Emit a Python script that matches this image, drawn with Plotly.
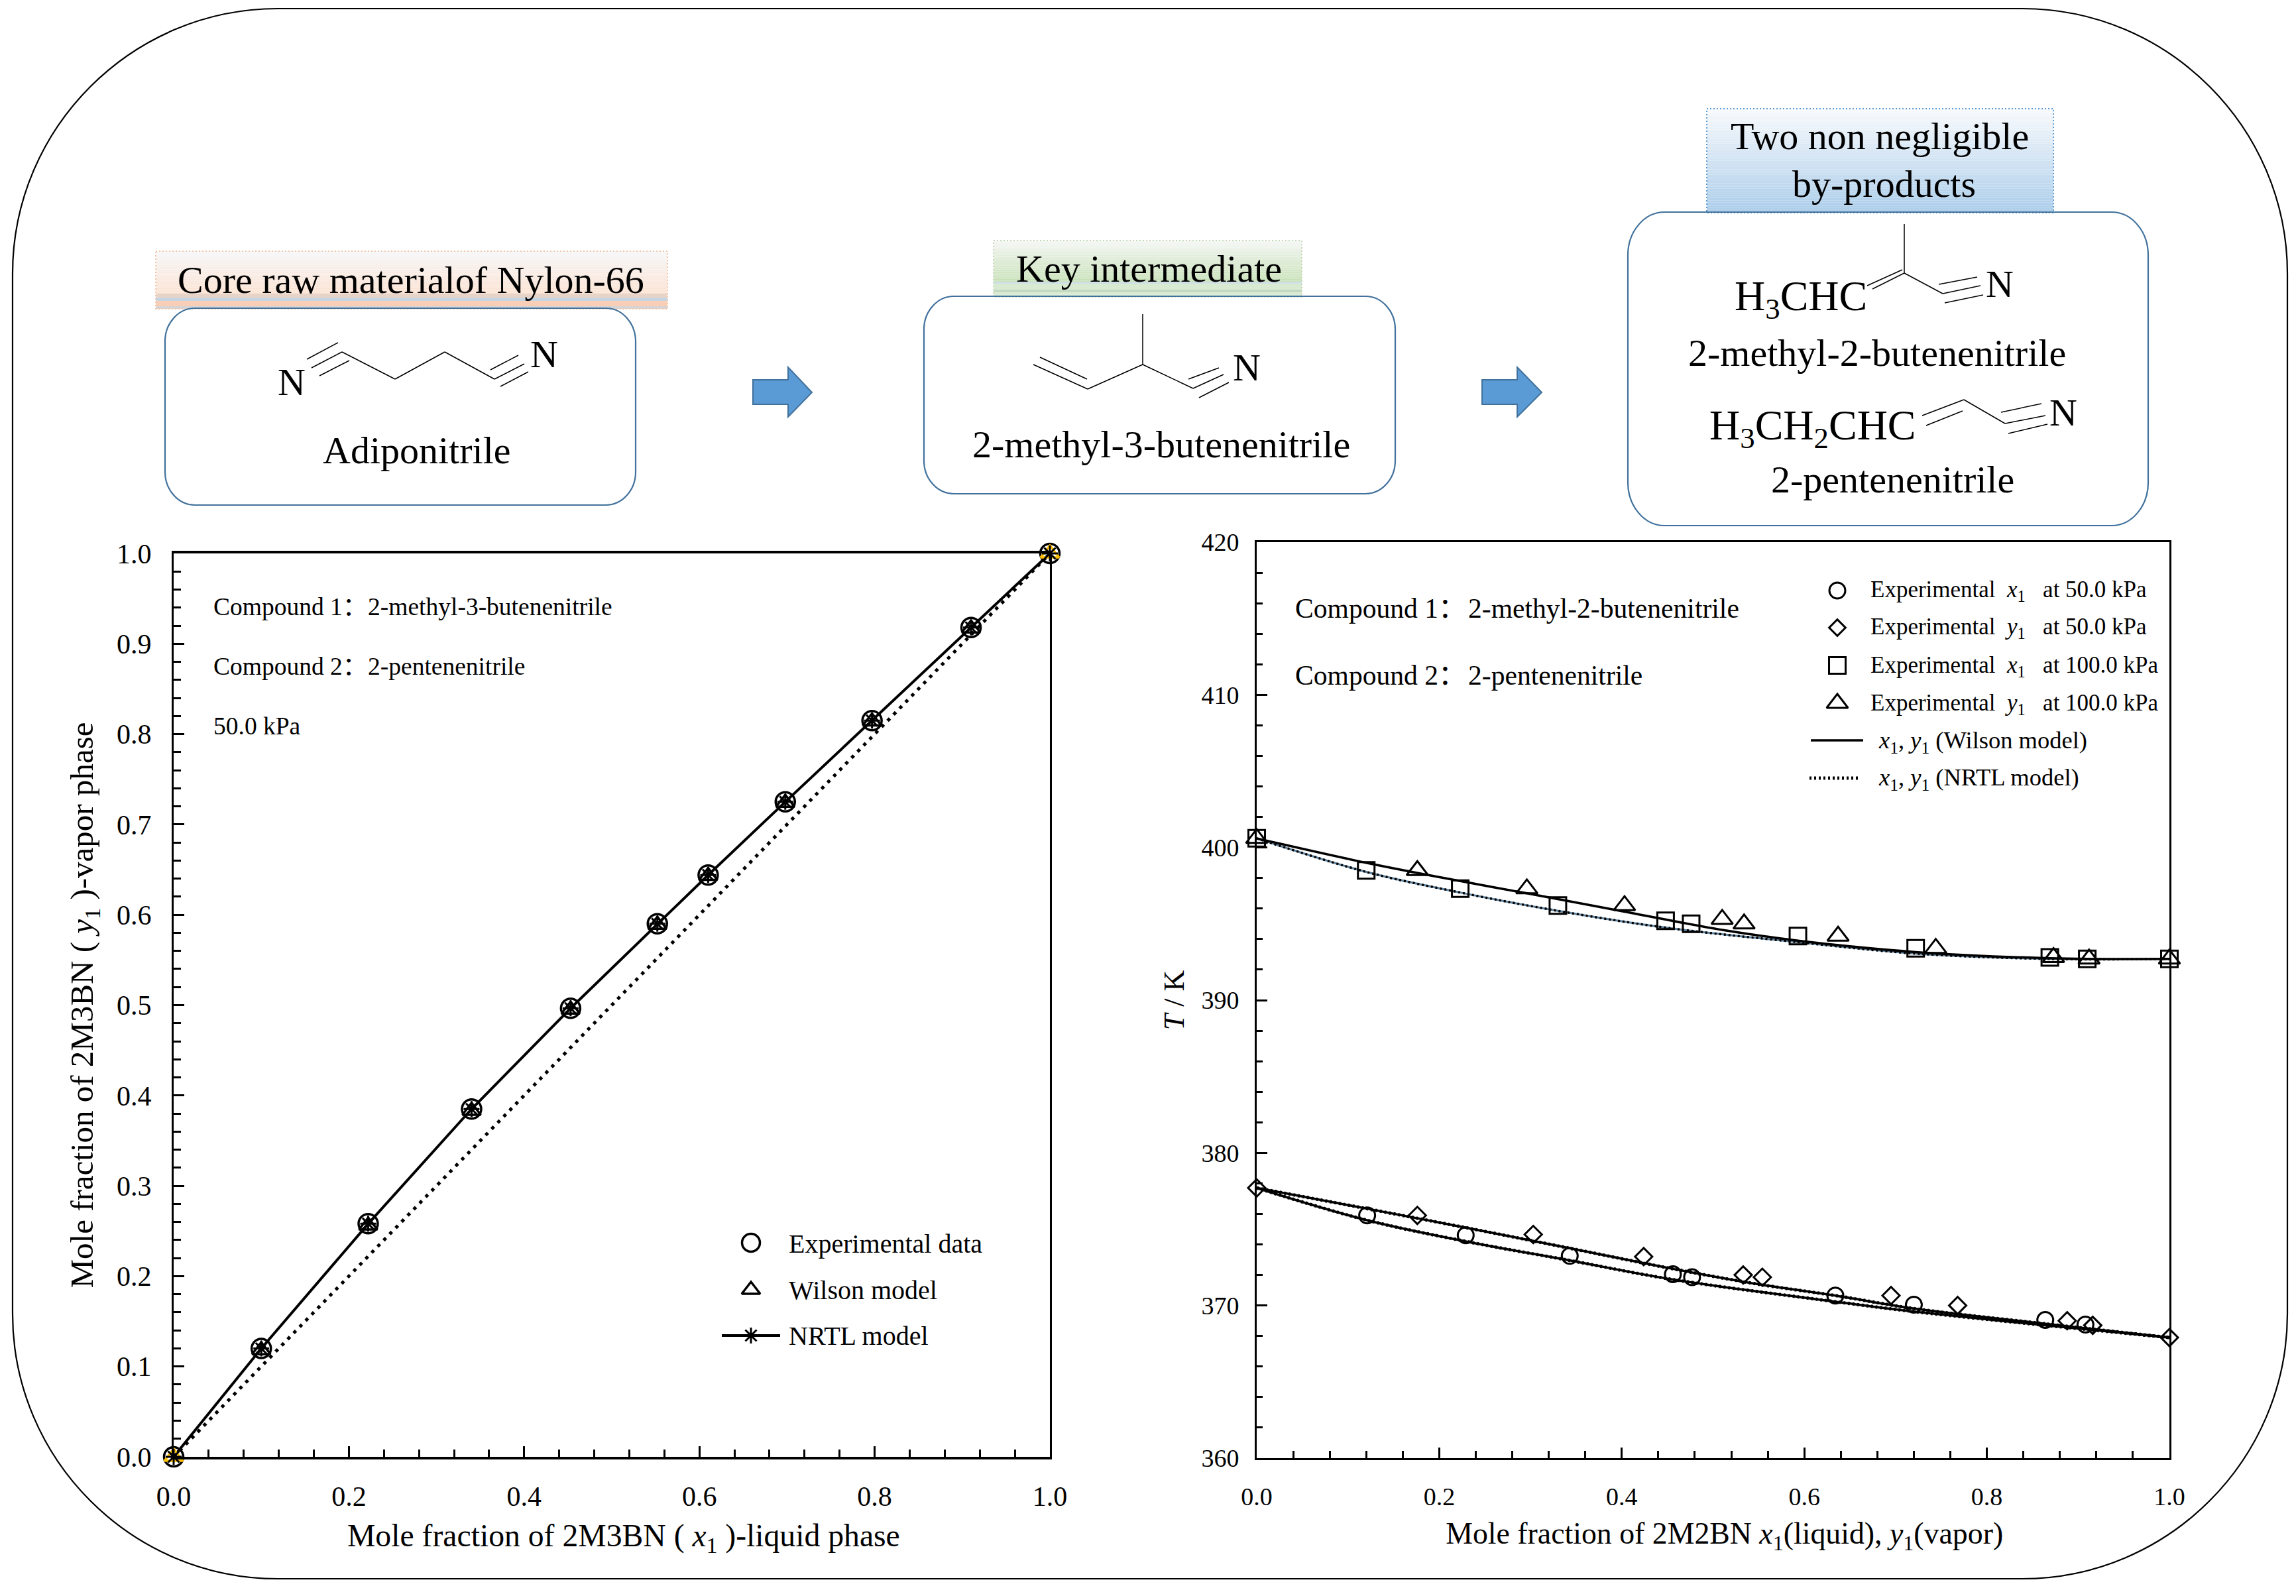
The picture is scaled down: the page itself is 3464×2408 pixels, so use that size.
'''
Vapor-liquid equilibrium figure for the 2M3BN / 2M2BN / 2PN nitrile systems,
with the reaction scheme drawn above the two plots.
'''

import plotly.graph_objects as go
from plotly.subplots import make_subplots

W, H = 3464, 2408
SERIF = "Liberation Serif, Noto Sans CJK SC, serif"
NB = "\u00a0"
# plotly trims plain spaces from a title, the zero width mark keeps the padding
TITLE_PAD = "\u200c" + NB * 3

# left plot: x-y diagram at 50 kPa
xy_x = [0.0, 0.1, 0.222, 0.34, 0.453, 0.552, 0.61, 0.698, 0.797, 0.91, 1.0]
xy_exp = [0.0, 0.12, 0.258, 0.385, 0.4965, 0.59, 0.644, 0.725, 0.815, 0.918, 1.0]
xy_wilson = [0.0, 0.118, 0.256, 0.383, 0.495, 0.589, 0.643, 0.724, 0.814, 0.917, 1.0]
xy_nrtl = [0.0, 0.12, 0.258, 0.385, 0.4965, 0.59, 0.644, 0.725, 0.815, 0.918, 1.0]
diag_x = [0.0, 1.0]
diag_y = [0.0, 1.0]

# right plot: T-x-y diagram, experimental points
x1_50 = [0.121, 0.229, 0.343, 0.456, 0.477, 0.634, 0.72, 0.864, 0.908]
t_x1_50 = [375.9, 374.6, 373.25, 372.05, 371.85, 370.65, 370.05, 369.05, 368.75]
y1_50 = [0.0, 0.176, 0.303, 0.424, 0.533, 0.554, 0.695, 0.768, 0.888, 0.916, 1.0]
t_y1_50 = [377.7, 375.9, 374.65, 373.2, 372.0, 371.85, 370.65, 370.0, 369.0, 368.7, 367.9]
x1_100 = [0.0, 0.12, 0.223, 0.33, 0.448, 0.476, 0.593, 0.722, 0.869, 0.91, 1.0]
t_x1_100 = [400.6, 398.5, 397.3, 396.2, 395.2, 395.0, 394.2, 393.4, 392.8, 392.7, 392.7]
y1_100 = [0.0, 0.176, 0.296, 0.403, 0.51, 0.534, 0.637, 0.744, 0.873, 0.912, 1.0]
t_y1_100 = [400.6, 398.5, 397.3, 396.2, 395.3, 395.0, 394.2, 393.4, 392.8, 392.7, 392.7]

# right plot: model curves
curve_x_50_low = [0.0, 0.12, 0.229, 0.343, 0.456, 0.634, 0.72, 0.864, 1.0]
curve_t_50_low = [377.7, 375.6, 374.2, 372.95, 371.7, 370.25, 369.6, 368.7, 367.9]
curve_x_50_up = [0.0, 0.12, 0.229, 0.343, 0.456, 0.554, 0.634, 0.72, 0.864, 1.0]
curve_t_50_up = [377.7, 376.35, 375.1, 373.75, 372.4, 371.35, 370.65, 369.8, 368.8, 367.9]
curve_x_100_low = [0.0, 0.12, 0.223, 0.33, 0.448, 0.593, 0.722, 0.869, 1.0]
curve_t_100_low = [400.6, 398.4, 397.05, 395.85, 394.75, 393.8, 393.05, 392.7, 392.7]
curve_x_100_up = [0.0, 0.12, 0.223, 0.296, 0.403, 0.51, 0.593, 0.722, 0.869, 1.0]
curve_t_100_up = [400.6, 399.0, 397.8, 397.0, 395.8, 394.6, 393.9, 393.15, 392.75, 392.7]

# plot frames in pixels (left, right, top, bottom)
LEFT = (262, 1584, 835, 2198)
RIGHT = (1896, 3273, 818, 2200)


def px(x):
    return x / W


def py(y):
    return 1 - y / H


def hline(x0, y0, x1, y1, width=1.5, color="black"):
    return dict(type="line", xref="paper", yref="paper", layer="above",
                x0=px(x0), y0=py(y0), x1=px(x1), y1=py(y1),
                line=dict(color=color, width=width))


def round_box(x0, y0, x1, y1, r, color="#41719C", width=2.2, rx=None):
    rx = r if rx is None else rx
    k = 0.45
    pts = [("M", x0 + rx, y0), ("L", x1 - rx, y0),
           ("C", x1 - rx * k, y0, x1, y0 + r * k, x1, y0 + r), ("L", x1, y1 - r),
           ("C", x1, y1 - r * k, x1 - rx * k, y1, x1 - rx, y1), ("L", x0 + rx, y1),
           ("C", x0 + rx * k, y1, x0, y1 - r * k, x0, y1 - r), ("L", x0, y0 + r),
           ("C", x0, y0 + r * k, x0 + rx * k, y0, x0 + rx, y0)]
    path = ""
    for p in pts:
        coords = p[1:]
        vals = [f"{px(coords[i]):.5f},{py(coords[i + 1]):.5f}" for i in range(0, len(coords), 2)]
        path += p[0] + " ".join(vals) + " "
    return dict(type="path", xref="paper", yref="paper", layer="above", path=path + "Z",
                line=dict(color=color, width=width))


def mix(c0, c1, t):
    a = [int(c0[i:i + 2], 16) for i in (1, 3, 5)]
    b = [int(c1[i:i + 2], 16) for i in (1, 3, 5)]
    return "#%02x%02x%02x" % tuple(round(a[i] + (b[i] - a[i]) * t) for i in range(3))


def band(x0, x1, y0, y1, c0, c1=None, steps=1):
    # horizontal slices, since plotly shapes have no gradient fill
    out = []
    c1 = c1 or c0
    for i in range(steps):
        t = i / max(steps - 1, 1)
        out.append(dict(type="rect", xref="paper", yref="paper", layer="below",
                        x0=px(x0), x1=px(x1),
                        y0=py(y0 + (y1 - y0) * i / steps), y1=py(y0 + (y1 - y0) * (i + 1) / steps),
                        fillcolor=mix(c0, c1, t), line=dict(width=0)))
    return out


def frame(x0, y0, x1, y1, color):
    return dict(type="rect", xref="paper", yref="paper", layer="below",
                x0=px(x0), x1=px(x1), y0=py(y0), y1=py(y1),
                line=dict(color=color, width=2, dash="2px,3px"))


def arrow(x0, x_head, x_tip, y_mid):
    pts = [(x0, y_mid - 19), (x_head, y_mid - 19), (x_head, y_mid - 38), (x_tip, y_mid),
           (x_head, y_mid + 37), (x_head, y_mid + 18), (x0, y_mid + 18)]
    path = "M" + " L".join(f"{px(a):.5f},{py(b):.5f}" for a, b in pts) + " Z"
    return dict(type="path", xref="paper", yref="paper", layer="above", path=path,
                fillcolor="#5B9BD5", line=dict(color="#41719C", width=2))


def label(x, y, text, size=58, anchor="center", angle=0):
    return dict(xref="paper", yref="paper", x=px(x), y=py(y), text=text, showarrow=False,
                xanchor=anchor, yanchor="middle", textangle=angle,
                font=dict(family=SERIF, size=size, color="black"))


fig = make_subplots(rows=1, cols=2)


def to_left(x, y):
    return (x - LEFT[0]) / (LEFT[1] - LEFT[0]), (LEFT[3] - y) / (LEFT[3] - LEFT[2])


def to_right(x, y):
    return (x - RIGHT[0]) / (RIGHT[1] - RIGHT[0]), 360 + 60 * (RIGHT[3] - y) / (RIGHT[3] - RIGHT[2])


def curve(x, y, col, dash="solid", width=3.5, color="black", shape="spline"):
    fig.add_trace(go.Scatter(x=x, y=y, mode="lines", cliponaxis=False,
                             line=dict(color=color, width=width, dash=dash, shape=shape)),
                  row=1, col=col)


def points(x, y, col, symbol, size, width=3, color="black", name=None):
    fig.add_trace(go.Scatter(x=x, y=y, mode="markers", name=name, cliponaxis=False,
                             marker=dict(symbol=symbol, size=size, color=color,
                                         line=dict(width=width, color="black"))),
                  row=1, col=col)


# left plot
curve(diag_x, diag_y, 1, dash="5px,8px", width=5, shape="linear")
curve(xy_x, xy_nrtl, 1, width=4, shape="linear")
points(xy_x, xy_exp, 1, "circle-open", 29, width=3.5, name="Experimental data")
tri_colors = ["#FFC000"] + ["black"] * (len(xy_x) - 2) + ["#FFC000"]
points(xy_x, xy_wilson, 1, "triangle-up-open", 24, width=3.5, color=tri_colors, name="Wilson model")
points(xy_x, xy_nrtl, 1, "asterisk-open", 20, width=3, name="NRTL model")

# left plot key
kx, ky = to_left(1133, 1875)
points([kx], [ky], 1, "circle-open", 27, width=3.5)
kx, ky = to_left(1133, 1946)
points([kx], [ky], 1, "triangle-up-open", 24, width=3.5)
kx0, ky0 = to_left(1089, 2015)
kx1, _ = to_left(1177, 2015)
curve([kx0, kx1], [ky0, ky0], 1, width=4, shape="linear")
points([(kx0 + kx1) / 2], [ky0], 1, "asterisk-open", 20, width=3)

# right plot, solid Wilson and dotted NRTL curves
curve(curve_x_100_low, curve_t_100_low, 2, width=3, color="#5b7f9c")
curve(curve_x_100_low, curve_t_100_low, 2, dash="3px,4px", width=3.5)
curve(curve_x_100_up, curve_t_100_up, 2, width=3.5)
curve(curve_x_50_low, curve_t_50_low, 2, width=3.5)
curve(curve_x_50_low, curve_t_50_low, 2, dash="3px,4px", width=5)
curve(curve_x_50_up, curve_t_50_up, 2, width=3.5)
curve(curve_x_50_up, curve_t_50_up, 2, dash="3px,4px", width=5)
points(x1_50, t_x1_50, 2, "circle-open", 24, name="x1 50 kPa")
points(y1_50, t_y1_50, 2, "diamond-open", 20, name="y1 50 kPa")
points(x1_100, t_x1_100, 2, "square-open", 25, name="x1 100 kPa")
points(y1_100, t_y1_100, 2, "triangle-up-open", 28, name="y1 100 kPa")

# right plot key
for ky_px, sym, size in [(891, "circle-open", 24), (947, "diamond-open", 19),
                         (1004, "square-open", 25), (1061, "triangle-up-open", 28)]:
    kx, ky = to_right(2772, ky_px)
    points([kx], [ky], 2, sym, size)
kx0, ky0 = to_right(2732, 1117)
kx1, _ = to_right(2811, 1117)
curve([kx0, kx1], [ky0, ky0], 2, width=3.5, shape="linear")
kx0, ky0 = to_right(2730, 1174)
kx1, _ = to_right(2806, 1174)
curve([kx0, kx1], [ky0, ky0], 2, dash="3px,4px", width=5, shape="linear")

# scheme
shapes = []
shapes.append(round_box(19, 13, 3451, 2382, 400, color="black", width=2.2))

shapes += band(235, 1007, 379, 443, "#f6f6f8", "#fbe2d2", 40)
shapes += band(235, 1007, 443, 449, "#e8d3c8")
shapes += band(235, 1007, 449, 454, "#c5d5e2")
shapes += band(235, 1007, 454, 462, "#f8cfb6")
shapes += band(235, 1007, 462, 466, "#d6d4d6")
shapes.append(frame(235, 379, 1007, 466, "#f4c6a8"))

shapes += band(1499, 1964, 363, 425, "#f4f6f4", "#c7e0b7", 40)
shapes += band(1499, 1964, 425, 428, "#cfe0e6")
shapes += band(1499, 1964, 428, 437, "#d9ead3")
shapes += band(1499, 1964, 437, 441, "#c3d9c0")
shapes += band(1499, 1964, 441, 448, "#dcebd5")
shapes.append(frame(1499, 363, 1964, 448, "#c5d9b8"))

shapes += band(2575, 3098, 164, 321, "#f7f9fc", "#abcdea", 60)
shapes.append(frame(2575, 164, 3098, 321, "#5b9bd5"))

shapes.append(round_box(249, 465, 959, 762, 50, rx=45))
shapes.append(round_box(1394, 447, 2105, 745, 50, rx=45))
shapes.append(round_box(2456, 320, 3241, 793, 65, rx=55))
shapes.append(arrow(1136, 1189, 1225, 592))
shapes.append(arrow(2236, 2289, 2326, 592))

bonds = [
    # adiponitrile
    (516, 531, 596, 572), (596, 572, 671, 531), (671, 531, 746, 572),
    (470, 555, 516, 531), (463, 542, 510, 517), (482, 567, 527, 544),
    (746, 572, 791, 549), (740, 558, 782, 536), (755, 583, 797, 561),
    # 2-methyl-3-butenenitrile
    (1559, 550, 1641, 587), (1569, 539, 1640, 572), (1641, 587, 1724, 550),
    (1724, 550, 1724, 474), (1724, 550, 1800, 586),
    (1800, 586, 1846, 565), (1793, 572, 1839, 555), (1809, 600, 1854, 577),
    # 2-methyl-2-butenenitrile
    (2873, 338, 2873, 412), (2873, 412, 2931, 443), (2873, 412, 2825, 436),
    (2870, 407, 2817, 431), (2931, 443, 2988, 431), (2925, 429, 2983, 418),
    (2934, 457, 2992, 445),
    # 2-pentenenitrile
    (2963, 603, 3025, 639), (2963, 603, 2900, 627), (2961, 620, 2906, 642),
    (3025, 639, 3086, 627), (3019, 622, 3080, 609), (3030, 654, 3089, 640),
]
for b in bonds:
    shapes.append(hline(*b))

exp_gap = NB * 3
texts = [
    label(620, 422, "Core raw materialof Nylon-66"),
    label(1733, 406, "Key intermediate"),
    label(2836, 206, "Two non negligible"),
    label(2842, 277, "by-products"),
    label(629, 679, "Adiponitrile"),
    label(1752, 671, "2-methyl-3-butenenitrile"),
    label(2832, 533, "2-methyl-2-butenenitrile"),
    label(2855, 723, "2-pentenenitrile"),
    label(2717, 451, "H<sub>3</sub>CHC", 64),
    label(2735, 646, "H<sub>3</sub>CH<sub>2</sub>CHC", 64),
    label(440, 576, "N"), label(821, 534, "N"), label(1881, 554, "N"),
    label(3017, 428, "N"), label(3113, 622, "N"),
    # left plot notes and key text
    label(320, 915, "Compound 1：", 37.5, "left"),
    label(553, 915, "2-methyl-3-butenenitrile", 37.5, "left"),
    label(320, 1005, "Compound 2：", 37.5, "left"),
    label(553, 1005, "2-pentenenitrile", 37.5, "left"),
    label(320, 1095, "50.0 kPa", 37.5, "left"),
    label(1188, 1876, "Experimental data", 40, "left"),
    label(1188, 1946, "Wilson model", 40, "left"),
    label(1188, 2015, "NRTL model", 40, "left"),
    # right plot notes and key text
    label(1952, 918, "Compound 1：", 41.6, "left"),
    label(2213, 918, "2-methyl-2-butenenitrile", 41.6, "left"),
    label(1952, 1019, "Compound 2：", 41.6, "left"),
    label(2213, 1019, "2-pentenenitrile", 41.6, "left"),
    label(2820, 892, f"Experimental{NB}{NB}<i>x</i><sub>1</sub>{exp_gap}at 50.0 kPa", 35, "left"),
    label(2820, 948, f"Experimental{NB}{NB}<i>y</i><sub>1</sub>{exp_gap}at 50.0 kPa", 35, "left"),
    label(2820, 1005, f"Experimental{NB}{NB}<i>x</i><sub>1</sub>{exp_gap}at 100.0 kPa", 35, "left"),
    label(2820, 1062, f"Experimental{NB}{NB}<i>y</i><sub>1</sub>{exp_gap}at 100.0 kPa", 35, "left"),
    label(2832, 1120, "<i>x</i><sub>1</sub>, <i>y</i><sub>1</sub> (Wilson model)", 36.5, "left"),
    label(2832, 1175, "<i>x</i><sub>1</sub>, <i>y</i><sub>1</sub> (NRTL model)", 36.5, "left"),
]

axis_common = dict(showline=True, mirror=True, linecolor="black", showgrid=False, zeroline=False,
                   ticks="inside", tickcolor="black", tickwidth=3, ticklen=16,
                   tickfont=dict(family=SERIF, size=42, color="black"))

fig.update_xaxes(axis_common)
fig.update_yaxes(axis_common)

fig.update_xaxes(row=1, col=1, domain=[LEFT[0] / W, LEFT[1] / W], range=[0, 1], tick0=0, dtick=0.2,
                 tickformat=".1f", linewidth=4, ticklabelstandoff=20,
                 minor=dict(dtick=0.04, ticks="inside", ticklen=11, tickwidth=3, tickcolor="black"),
                 title=dict(text=TITLE_PAD + "Mole fraction of 2M3BN ( <i>x</i><sub>1</sub> )-liquid phase", standoff=20,
                            font=dict(family=SERIF, size=47.7, color="black")))
fig.update_yaxes(row=1, col=1, domain=[1 - LEFT[3] / H, 1 - LEFT[2] / H], range=[0, 1], tick0=0, dtick=0.1,
                 tickformat=".1f", linewidth=3, ticklabelstandoff=22,
                 minor=dict(dtick=0.02, ticks="inside", ticklen=11, tickwidth=3, tickcolor="black"),
                 title=dict(text="Mole fraction of 2M3BN ( <i>y</i><sub>1</sub> )-vapor phase", standoff=20,
                            font=dict(family=SERIF, size=49, color="black")))
fig.update_xaxes(row=1, col=2, domain=[RIGHT[0] / W, RIGHT[1] / W], range=[0, 1], tick0=0, dtick=0.2,
                 tickformat=".1f", linewidth=3, ticklabelstandoff=22,
                 tickfont=dict(family=SERIF, size=38, color="black"),
                 minor=dict(dtick=0.04, ticks="inside", ticklen=11, tickwidth=3, tickcolor="black"),
                 title=dict(text=TITLE_PAD + "Mole fraction of 2M2BN <i>x</i><sub>1</sub>(liquid), <i>y</i><sub>1</sub>(vapor)",
                            standoff=20, font=dict(family=SERIF, size=45.8, color="black")))
fig.update_yaxes(row=1, col=2, domain=[1 - RIGHT[3] / H, 1 - RIGHT[2] / H], range=[360, 420], tick0=360, dtick=10,
                 linewidth=3, ticklabelstandoff=16,
                 tickfont=dict(family=SERIF, size=38, color="black"),
                 minor=dict(dtick=2, ticks="inside", ticklen=9, tickwidth=3, tickcolor="black"),
                 title=dict(text="<i>T</i> / K", standoff=12,
                            font=dict(family=SERIF, size=44, color="black")))

fig.update_layout(width=W, height=H, margin=dict(l=0, r=0, t=0, b=0, autoexpand=False), showlegend=False,
                  paper_bgcolor="white", plot_bgcolor="white", hovermode=False,
                  shapes=shapes, annotations=texts)

fig.write_html("out.html", config={"displayModeBar": False},
               post_script="document.body.style.margin='0';")
